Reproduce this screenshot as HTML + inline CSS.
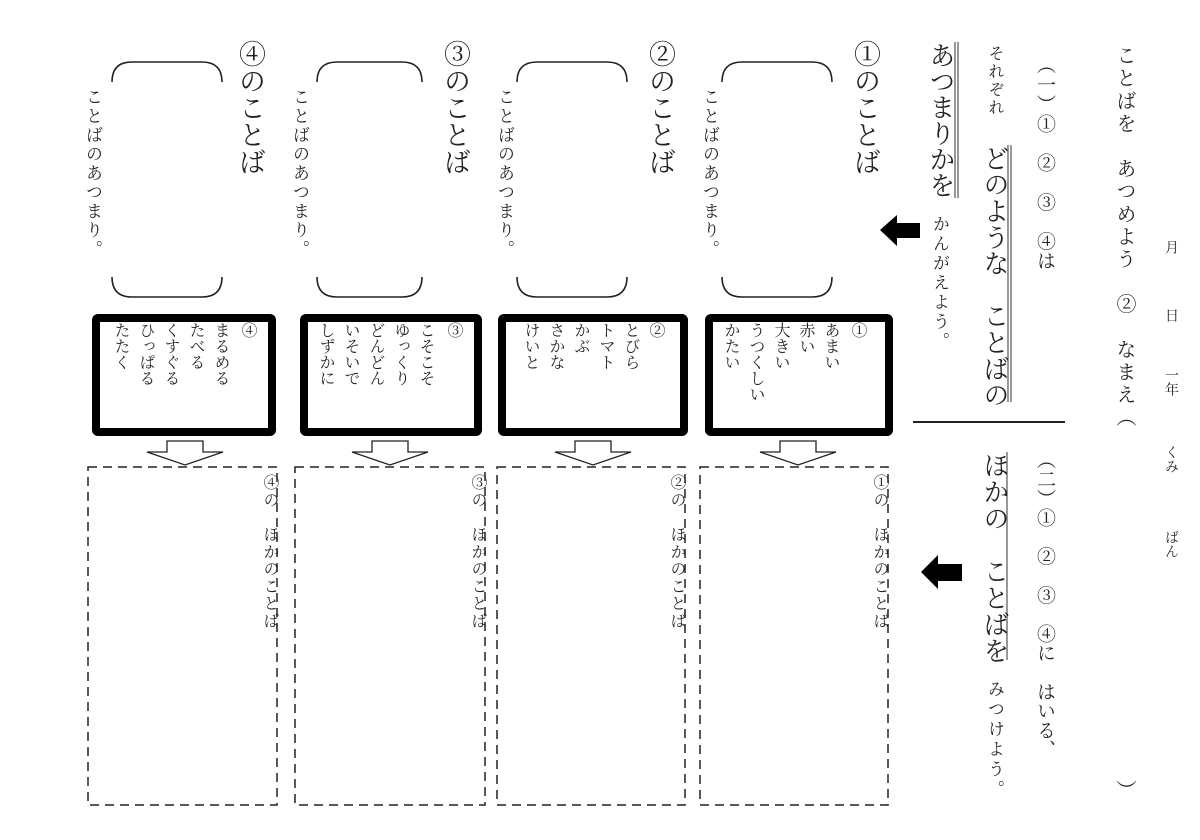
<!DOCTYPE html>
<html><head><meta charset="utf-8">
<style>
html,body{margin:0;padding:0;background:#fff;}
body{width:1200px;height:840px;position:relative;overflow:hidden;font-family:"Liberation Serif","Noto Serif CJK SC","Noto Sans CJK JP",serif;color:#222;}
.v{position:absolute;writing-mode:vertical-rl;white-space:nowrap;line-height:1;}
svg{position:absolute;left:0;top:0;}
</style></head><body>
<svg width="1200" height="840" viewBox="0 0 1200 840">
<g fill="none" stroke="#222" stroke-width="1.6">
<path d="M722,82 Q722,62 742,62 L812,62 Q832,62 832,82"/>
<path d="M722,277 Q722,297 742,297 L812,297 Q832,297 832,277"/>
<path d="M517,82 Q517,62 537,62 L607,62 Q627,62 627,82"/>
<path d="M517,277 Q517,297 537,297 L607,297 Q627,297 627,277"/>
<path d="M317,82 Q317,62 337,62 L402,62 Q422,62 422,82"/>
<path d="M317,277 Q317,297 337,297 L402,297 Q422,297 422,277"/>
<path d="M112,82 Q112,62 132,62 L202,62 Q222,62 222,82"/>
<path d="M112,277 Q112,297 132,297 L202,297 Q222,297 222,277"/>
</g>
<g fill="none" stroke="#000" stroke-width="8">
<rect x="709" y="318" width="180" height="114" rx="2"/>
<rect x="502" y="318" width="182" height="114" rx="2"/>
<rect x="304" y="318" width="174" height="114" rx="2"/>
<rect x="96" y="318" width="176" height="114" rx="2"/>
</g>
<g fill="#fff" stroke="#222" stroke-width="1.3">
<polygon points="780,441 816,441 816,452 836,452 798,465 760,452 780,452"/>
<polygon points="575,441 611,441 611,452 631,452 593,465 555,452 575,452"/>
<polygon points="372,441 408,441 408,452 428,452 390,465 352,452 372,452"/>
<polygon points="167,441 203,441 203,452 223,452 185,465 147,452 167,452"/>
</g>
<g fill="none" stroke="#222" stroke-width="1.5" stroke-dasharray="9,6">
<rect x="700" y="467" width="188" height="338"/>
<rect x="497" y="467" width="188" height="338"/>
<rect x="295" y="467" width="190" height="338"/>
<rect x="88" y="467" width="189" height="338"/>
</g>
<line x1="913" y1="422" x2="1065" y2="422" stroke="#222" stroke-width="2"/>
<g stroke="#555" stroke-width="1.2">
<line x1="1008" y1="145" x2="1008" y2="402"/><line x1="1011" y1="145" x2="1011" y2="402"/>
<line x1="955" y1="42" x2="955" y2="198"/><line x1="958" y1="42" x2="958" y2="198"/>
<line x1="1007" y1="452" x2="1007" y2="660"/>
</g>
<polygon points="880,230 897,215 897,223 920,223 920,238 897,238 897,246" fill="#000"/>
<polygon points="921,572 938,555 938,564 962,564 962,581 938,581 938,589" fill="#000"/>
</svg>

<div class="v" style="left:1114px;top:45px;font-size:20px;letter-spacing:2.6px;">ことばを　あつめよう　②　なまえ（</div>
<div class="v" style="left:1163px;top:240px;font-size:14px;">月</div>
<div class="v" style="left:1163px;top:308px;font-size:14px;">日</div>
<div class="v" style="left:1163px;top:368px;font-size:14px;">一年</div>
<div class="v" style="left:1163px;top:445px;font-size:14px;">くみ</div>
<div class="v" style="left:1163px;top:530px;font-size:14px;">ばん</div>
<div class="v" style="left:1114px;top:780px;font-size:20px;">）</div>

<div class="v" style="left:1035px;top:55px;font-size:19px;letter-spacing:0.6px;">（一）①　②　③　④は</div>
<div class="v" style="left:986px;top:45px;font-size:16px;letter-spacing:2px;">それぞれ</div>
<div class="v" style="left:981px;top:145px;font-size:26px;letter-spacing:0.3px;">どのような　ことばの</div>
<div class="v" style="left:927px;top:42px;font-size:26px;">あつまりかを</div>
<div class="v" style="left:931px;top:215px;font-size:17px;letter-spacing:2.5px;">かんがえよう。</div>

<div class="v" style="left:1035px;top:450px;font-size:19px;letter-spacing:0.3px;">（二）①　②　③　④に　はいる、</div>
<div class="v" style="left:981px;top:452px;font-size:26px;letter-spacing:0.5px;">ほかの　ことばを</div>
<div class="v" style="left:986px;top:680px;font-size:17px;letter-spacing:3px;">みつけよう。</div>

<div class="v" style="left:851px;top:40px;font-size:27px;">①のことば</div>
<div class="v" style="left:646px;top:40px;font-size:27px;">②のことば</div>
<div class="v" style="left:441px;top:40px;font-size:27px;">③のことば</div>
<div class="v" style="left:236px;top:40px;font-size:27px;">④のことば</div>
<div class="v" style="left:701px;top:88px;font-size:17px;letter-spacing:2px;">ことばのあつまり。</div>
<div class="v" style="left:496px;top:88px;font-size:17px;letter-spacing:2px;">ことばのあつまり。</div>
<div class="v" style="left:291px;top:88px;font-size:17px;letter-spacing:2px;">ことばのあつまり。</div>
<div class="v" style="left:84px;top:88px;font-size:17px;letter-spacing:2px;">ことばのあつまり。</div>

<div class="v" style="left:849px;top:322px;font-size:16px;">①</div>
<div class="v" style="left:822px;top:322px;font-size:16px;">あまい</div>
<div class="v" style="left:797px;top:322px;font-size:16px;">赤い</div>
<div class="v" style="left:772px;top:322px;font-size:16px;">大きい</div>
<div class="v" style="left:747px;top:322px;font-size:16px;">うつくしい</div>
<div class="v" style="left:722px;top:322px;font-size:16px;">かたい</div>

<div class="v" style="left:647px;top:322px;font-size:16px;">②</div>
<div class="v" style="left:622px;top:322px;font-size:16px;">とびら</div>
<div class="v" style="left:597px;top:322px;font-size:16px;">トマト</div>
<div class="v" style="left:572px;top:322px;font-size:16px;">かぶ</div>
<div class="v" style="left:547px;top:322px;font-size:16px;">さかな</div>
<div class="v" style="left:522px;top:322px;font-size:16px;">けいと</div>

<div class="v" style="left:445px;top:322px;font-size:16px;">③</div>
<div class="v" style="left:417px;top:322px;font-size:16px;">こそこそ</div>
<div class="v" style="left:392px;top:322px;font-size:16px;">ゆっくり</div>
<div class="v" style="left:367px;top:322px;font-size:16px;">どんどん</div>
<div class="v" style="left:342px;top:322px;font-size:16px;">いそいで</div>
<div class="v" style="left:317px;top:322px;font-size:16px;">しずかに</div>

<div class="v" style="left:239px;top:322px;font-size:16px;">④</div>
<div class="v" style="left:212px;top:322px;font-size:16px;">まるめる</div>
<div class="v" style="left:187px;top:322px;font-size:16px;">たべる</div>
<div class="v" style="left:162px;top:322px;font-size:16px;">くすぐる</div>
<div class="v" style="left:137px;top:322px;font-size:16px;">ひっぱる</div>
<div class="v" style="left:112px;top:322px;font-size:16px;">たたく</div>

<div class="v" style="left:871px;top:474px;font-size:16px;letter-spacing:1.3px;">①の　ほかのことば</div>
<div class="v" style="left:668px;top:474px;font-size:16px;letter-spacing:1.3px;">②の　ほかのことば</div>
<div class="v" style="left:469px;top:474px;font-size:16px;letter-spacing:1.3px;">③の　ほかのことば</div>
<div class="v" style="left:261px;top:474px;font-size:16px;letter-spacing:1.3px;">④の　ほかのことば</div>
</body></html>
